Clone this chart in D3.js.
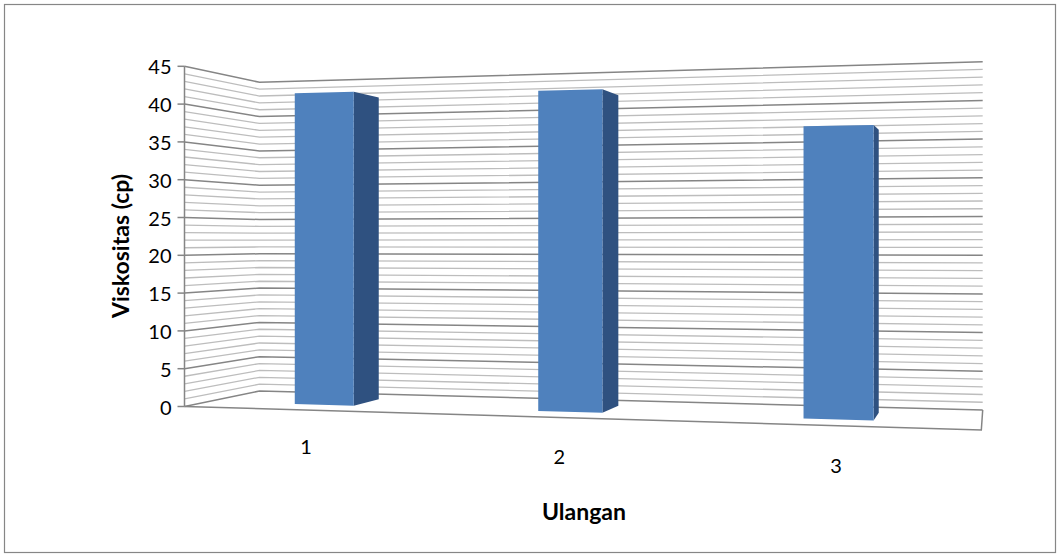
<!DOCTYPE html>
<html>
<head>
<meta charset="utf-8">
<script src="https://cdn.jsdelivr.net/npm/d3@7"></script>
<style>
  html, body { margin: 0; padding: 0; background: #fff; }
  svg { display: block; }
  text { font-family: Lato, "Noto Sans", sans-serif; fill: #000; }
</style>
</head>
<body>
<svg id="chart" width="1060" height="557"></svg>
<script>
// ---- data ----
const categories = ["1", "2", "3"];
const viskositas = [41.7, 41.2, 36.0];
const yTicks = [0, 5, 10, 15, 20, 25, 30, 35, 40, 45];
const yTitle = "Viskositas (cp)";
const xTitle = "Ulangan";

// ---- layout ----
const W = 1060, H = 557;
// screen position of the three visible vertical edges of the 3-D plot box
const frontLeft = { x: 184.5, y0: 406.5, y1: 66.3 };
const backLeft  = { x: 259.5, y0: 391.0, y1: 82.3 };
const backRight = { x: 982.7, y0: 410.0, y1: 61.7 };
const barDepth = [0.3, 0.7];   // bar front / back, as fraction of floor depth

// perspective projection of box space (X: 0..1 across, Y: 0..1 up, Z: 0..1 into depth)
const hF = frontLeft.y0 - frontLeft.y1;
const hB = backLeft.y0 - backLeft.y1;
const hR = backRight.y0 - backRight.y1;
const pa = 1 / hF, pc = 1 / hB - pa, pb = 1 / hR - 1 / hB;
const pd = frontLeft.x * pa, pf = backLeft.x / hB - pd, pe = backRight.x / hR - pd - pf;
const pg = frontLeft.y0 * pa, pi = backLeft.y0 / hB - pg, ph = backRight.y0 / hR - pg - pi;
function project(X, Y, Z) {
  const w = pa + pb * X + pc * Z;
  return [(pd + pe * X + pf * Z) / w, (pg + ph * X + pi * Z - Y) / w];
}

const y = d3.scaleLinear().domain([0, 45]).range([0, 1]);
const x = d3.scaleBand().domain(categories).range([0, 1])
  .paddingInner(0.75).paddingOuter(0.375);

const svg = d3.select("#chart");
const line = d3.line();

// chart border
svg.append("rect")
  .attr("x", 4.5).attr("y", 4.5).attr("width", W - 9).attr("height", H - 9)
  .attr("fill", "#fff").attr("stroke", "#868686").attr("stroke-width", 1.2);

// floor
const floorPts = [project(0, 0, 0), project(0, 0, 1), project(1, 0, 1), project(1, 0, 0)];
svg.append("path").attr("d", line(floorPts) + "Z")
  .attr("fill", "#fff").attr("stroke", "none");

// gridlines on back wall and side wall, one per unit, darker at each major tick
const gridVals = d3.range(0, 46, 1);
const grid = svg.append("g").attr("fill", "none");
gridVals.forEach(v => {
  const major = v % 5 === 0;
  const Y = y(v);
  grid.append("path")
    .attr("d", line([project(0, Y, 0), project(0, Y, 1), project(1, Y, 1)]))
    .attr("stroke", major ? "#858585" : "#bdbdbd")
    .attr("stroke-width", major ? 1.5 : 1.3);
});

// floor outline
svg.append("path").attr("d", line([project(0, 0, 0), project(1, 0, 0), project(1, 0, 1)]))
  .attr("fill", "none").attr("stroke", "#858585").attr("stroke-width", 1.5);

// bars
const bars = svg.append("g");
categories.forEach((c, k) => {
  const X0 = x(c), X1 = x(c) + x.bandwidth();
  const Z0 = barDepth[0], Z1 = barDepth[1];
  const Y = y(viskositas[k]);
  const side = [project(X1, 0, Z0), project(X1, 0, Z1), project(X1, Y, Z1), project(X1, Y, Z0)];
  const front = [project(X0, 0, Z0), project(X1, 0, Z0), project(X1, Y, Z0), project(X0, Y, Z0)];
  bars.append("path").attr("d", line(side) + "Z").attr("fill", "#2f5180");
  bars.append("path").attr("d", line(front) + "Z").attr("fill", "#4f81bd");
});

// value axis on the front-left edge
const axis = svg.append("g");
axis.append("path")
  .attr("d", line([project(0, 0, 0), project(0, 1, 0)]))
  .attr("stroke", "#858585").attr("stroke-width", 1.5);
yTicks.forEach(t => {
  const [px, py] = project(0, y(t), 0);
  axis.append("line")
    .attr("x1", px - 7).attr("x2", px).attr("y1", py).attr("y2", py)
    .attr("stroke", "#858585").attr("stroke-width", 1.5);
  axis.append("text")
    .attr("x", px - 13).attr("y", py)
    .attr("text-anchor", "end").attr("dominant-baseline", "central")
    .attr("font-size", 20).text(t);
});

// category labels below the front edge
categories.forEach(c => {
  const [px, py] = project(x(c) + x.bandwidth() / 2, -0.105, 0);
  svg.append("text")
    .attr("x", px + 3).attr("y", py)
    .attr("text-anchor", "middle").attr("dominant-baseline", "central")
    .attr("font-size", 20).text(c);
});

// axis titles
svg.append("text")
  .attr("transform", "translate(120,246) rotate(-90)")
  .attr("text-anchor", "middle").attr("dominant-baseline", "central")
  .attr("font-size", 23).attr("font-weight", "bold").text(yTitle);
svg.append("text")
  .attr("x", 584).attr("y", 511)
  .attr("text-anchor", "middle").attr("dominant-baseline", "central")
  .attr("font-size", 23).attr("font-weight", "bold").text(xTitle);
</script>
</body>
</html>
